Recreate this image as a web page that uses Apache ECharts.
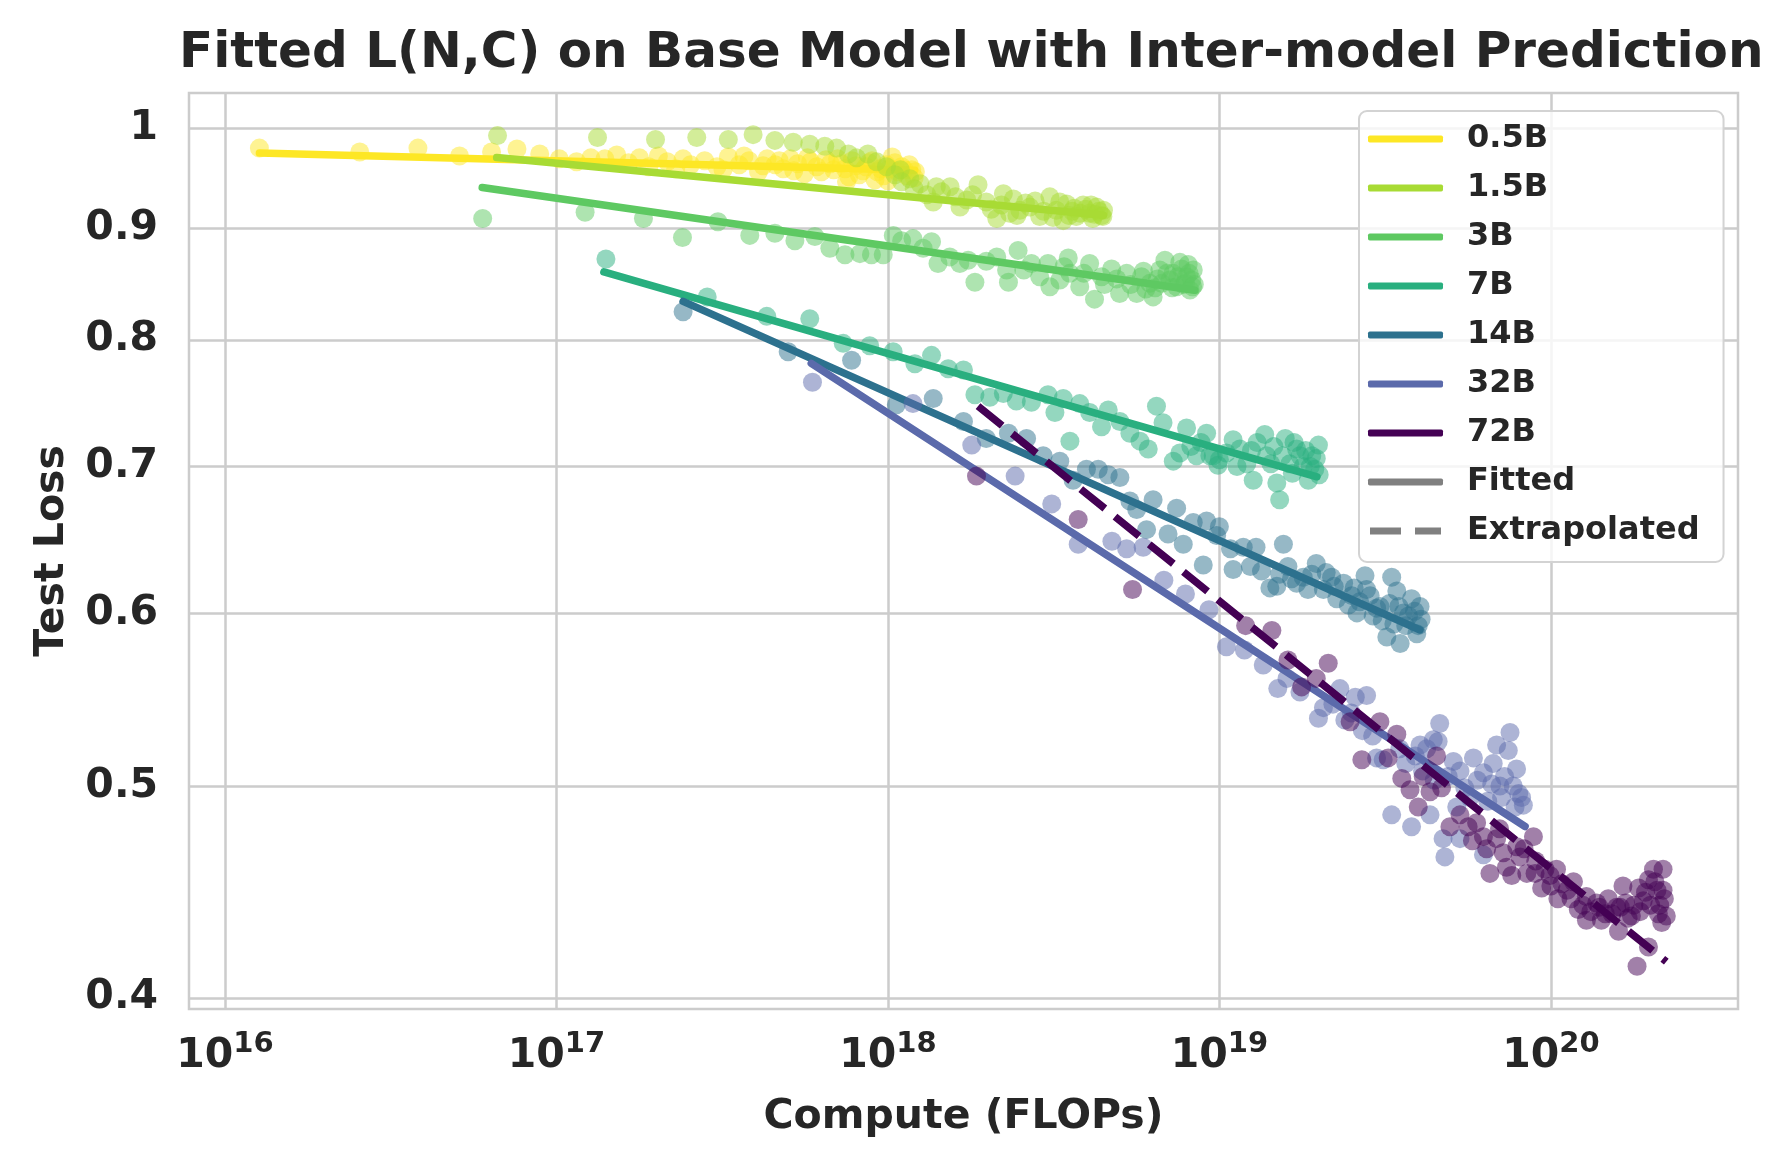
<!DOCTYPE html>
<html>
<head>
<meta charset="utf-8">
<title>Fitted L(N,C)</title>
<script src="https://cdn.jsdelivr.net/npm/echarts@6/dist/echarts.min.js"></script>
<style>
html, body { margin: 0; padding: 0; background: #fff; }
#chart { width: 1787px; height: 1172px; }
</style>
</head>
<body>
<div id="chart"></div>
<script>
var models = ['0.5B', '1.5B', '3B', '7B', '14B', '32B', '72B'];
var colors = ['#fde725', '#a8db34', '#5ec962', '#29af7f', '#2d718e', '#5b6aab', '#440154'];

// tick positions: x as powers of ten, y as loss values
var xTicks = [16, 17, 18, 19, 20];
var yTicks = [0.4, 0.5, 0.6, 0.7, 0.8, 0.9, 1];

// observed points [compute FLOPs, test loss]
var pts05 = [[1.27e16,0.979],[2.55e16,0.975],[3.82e16,0.979],[5.1e16,0.971],[6.37e16,0.975],[7.6e16,0.978],[8.9e16,0.973],[1.02e17,0.968],[1.15e17,0.965],[1.27e17,0.969],[1.4e17,0.968],[1.52e17,0.972],[1.65e17,0.964],[1.78e17,0.969],[1.9e17,0.960],[2.03e17,0.971],[2.16e17,0.965],[2.29e17,0.958],[2.41e17,0.968],[2.54e17,0.962],[2.8e17,0.966],[3.05e17,0.960],[3.3e17,0.970],[3.56e17,0.962],[3.81e17,0.966],[4.07e17,0.955],[4.32e17,0.968],[4.57e17,0.962],[4.83e17,0.958],[5.08e17,0.968],[5.34e17,0.963],[5.6e17,0.953],[5.85e17,0.965],[6.1e17,0.960],[6.5e17,0.967],[6.86e17,0.957],[7.24e17,0.963],[7.62e17,0.950],[8.0e17,0.961],[8.4e17,0.956],[8.76e17,0.964],[9.14e17,0.947],[9.5e17,0.958],[9.9e17,0.962],[1.03e18,0.970],[1.07e18,0.955],[1.1e18,0.960],[1.14e18,0.951],[1.18e18,0.957],[1.21e18,0.955],
    [3.18e17,0.957],[3.68e17,0.971],[4.2e17,0.961],[4.7e17,0.966],[5.2e17,0.956],[5.72e17,0.969],[6.3e17,0.955],[6.7e17,0.963],[7.05e17,0.968],[7.43e17,0.958],[7.5e17,0.945],[7.8e17,0.966],[8.2e17,0.952],[8.58e17,0.960],[8.95e17,0.966],[9.3e17,0.955],[9.7e17,0.951],[1.0e18,0.946],[1.01e18,0.958],[1.05e18,0.964],[1.12e18,0.957],[1.16e18,0.962],[1.2e18,0.949]];
var pts15 = [[6.64e16,0.992],[1.33e17,0.990],[1.99e17,0.988],[2.65e17,0.990],[3.3e17,0.988],[3.92e17,0.993],[4.56e17,0.987],[5.18e17,0.985],[5.81e17,0.983],[6.45e17,0.981],[7.0e17,0.979],[7.6e17,0.973],[8.04e17,0.969],[8.7e17,0.973],[9.24e17,0.965],[9.9e17,0.960],[1.05e18,0.952],[1.09e18,0.957],[1.165e18,0.948],[1.2e18,0.938],[1.25e18,0.943],[1.31e18,0.932],[1.37e18,0.925],[1.4e18,0.940],[1.54e18,0.940],[1.6e18,0.930],[1.65e18,0.920],[1.73e18,0.927],[1.87e18,0.942],[1.98e18,0.925],[2.05e18,0.918],[2.13e18,0.909],[2.23e18,0.933],[2.33e18,0.914],[2.39e18,0.928],[2.5e18,0.917],[2.68e18,0.920],[2.78e18,0.926],[2.87e18,0.911],[3.08e18,0.930],[3.22e18,0.917],[3.38e18,0.907],[3.46e18,0.923],[3.6e18,0.916],[3.7e18,0.911],[3.88e18,0.922],[4.06e18,0.914],[4.15e18,0.909],[4.26e18,0.920],[4.41e18,0.912],[4.47e18,0.917],
    [1.1e18,0.945],[1.45e18,0.935],[1.8e18,0.932],[2.2e18,0.922],[2.45e18,0.912],[2.6e18,0.924],[2.95e18,0.916],[3.15e18,0.910],[3.3e18,0.925],[3.52e18,0.912],[3.65e18,0.919],[3.8e18,0.914],[3.95e18,0.918],[4.1e18,0.922],[4.2e18,0.913],[4.33e18,0.916],[4.45e18,0.911]];
var pts3 = [[5.99e16,0.909],[1.22e17,0.915],[1.83e17,0.909],[2.4e17,0.891],[3.07e17,0.906],[3.83e17,0.893],[4.56e17,0.895],[5.24e17,0.888],[6.02e17,0.892],[6.68e17,0.881],[7.42e17,0.875],[8.23e17,0.876],[8.92e17,0.875],[9.68e17,0.875],[1.038e18,0.893],[1.1e18,0.888],[1.19e18,0.890],[1.277e18,0.881],[1.354e18,0.887],[1.416e18,0.867],[1.537e18,0.873],[1.648e18,0.867],[1.746e18,0.870],[1.83e18,0.850],[1.98e18,0.869],[2.13e18,0.873],[2.28e18,0.861],[2.31e18,0.850],[2.47e18,0.879],[2.57e18,0.861],[2.71e18,0.867],[2.87e18,0.855],[3.04e18,0.867],[3.08e18,0.846],[3.3e18,0.852],[3.5e18,0.872],[3.54e18,0.858],[3.79e18,0.846],[4.06e18,0.867],[4.2e18,0.835],[4.41e18,0.855],[4.73e18,0.862],[5.0e18,0.840],[5.25e18,0.858],[5.63e18,0.840],[5.82e18,0.855],[6.0e18,0.844],[6.17e18,0.849],[6.31e18,0.837],[6.5e18,0.853],[6.61e18,0.861],[6.85e18,0.870],[7.1e18,0.852],[7.25e18,0.858],[7.43e18,0.846],[7.69e18,0.862],[7.8e18,0.848],[7.96e18,0.855],[8.05e18,0.866],[8.15e18,0.843],[8.25e18,0.852],[8.34e18,0.861],[8.4e18,0.848],
    [3.4e18,0.864],[3.9e18,0.858],[4.5e18,0.848],[4.9e18,0.853],[5.4e18,0.848],[5.9e18,0.860],[6.4e18,0.845],[6.7e18,0.849],[6.95e18,0.858],[7.2e18,0.845],[7.5e18,0.855],[7.6e18,0.868],[7.9e18,0.849],[8.1e18,0.858],[8.3e18,0.846]];
var pts7 = [[1.41e17,0.871],[2.85e17,0.837],[4.31e17,0.820],[5.81e17,0.818],[7.33e17,0.797],[8.81e17,0.795],[1.037e18,0.790],[1.206e18,0.780],[1.354e18,0.787],[1.52e18,0.776],[1.69e18,0.775],[1.83e18,0.755],[2.03e18,0.753],[2.23e18,0.756],[2.44e18,0.750],[2.71e18,0.749],[3.04e18,0.755],[3.19e18,0.741],[3.38e18,0.752],[3.54e18,0.719],[3.79e18,0.748],[4.06e18,0.741],[4.41e18,0.730],[4.62e18,0.743],[5.01e18,0.734],[5.37e18,0.725],[5.76e18,0.719],[6.1e18,0.713],[6.46e18,0.746],[6.76e18,0.733],[7.26e18,0.704],[7.6e18,0.710],[7.96e18,0.729],[8.53e18,0.708],[9.15e18,0.725],[9.36e18,0.708],[9.58e18,0.708],[9.9e18,0.701],[1.0e19,0.705],[1.1e19,0.720],[1.153e19,0.713],[1.21e19,0.702],[1.265e19,0.690],[1.37e19,0.724],[1.388e19,0.708],[1.49e19,0.688],[1.52e19,0.676],[1.58e19,0.721],[1.63e19,0.702],[1.71e19,0.713],[1.79e19,0.700],[1.855e19,0.690],[1.9e19,0.708],[1.94e19,0.698],[1.99e19,0.716],
    [8.2e18,0.715],[8.8e18,0.718],[1.05e19,0.710],[1.13e19,0.700],[1.25e19,0.712],[1.3e19,0.718],[1.43e19,0.702],[1.46e19,0.715],[1.55e19,0.708],[1.66e19,0.695],[1.68e19,0.718],[1.75e19,0.708],[1.82e19,0.712],[1.88e19,0.700],[1.96e19,0.706],[2.0e19,0.694]];
var pts14 = [[2.41e17,0.824],[5.0e17,0.790],[7.77e17,0.783],[1.06e18,0.747],[1.37e18,0.752],[1.69e18,0.734],[1.98e18,0.721],[2.31e18,0.725],[2.62e18,0.721],[2.94e18,0.708],[3.3e18,0.704],[3.62e18,0.690],[3.97e18,0.698],[4.31e18,0.698],[4.62e18,0.694],[5.01e18,0.692],[5.37e18,0.675],[5.63e18,0.669],[6.03e18,0.655],[6.31e18,0.676],[7.0e18,0.652],[7.43e18,0.670],[7.78e18,0.645],[8.34e18,0.660],[8.94e18,0.631],[9.15e18,0.661],[9.81e18,0.651],[1.0e19,0.657],[1.08e19,0.642],[1.1e19,0.628],[1.18e19,0.643],[1.24e19,0.630],[1.29e19,0.643],[1.34e19,0.627],[1.42e19,0.616],[1.49e19,0.617],[1.56e19,0.645],[1.61e19,0.630],[1.71e19,0.619],[1.79e19,0.623],[1.9e19,0.625],[1.96e19,0.632],[2.06e19,0.615],[2.18e19,0.623],[2.26e19,0.609],[2.37e19,0.619],[2.51e19,0.611],[2.6e19,0.600],[2.75e19,0.624],[2.78e19,0.615],[2.91e19,0.598],[3.05e19,0.604],[3.2e19,0.585],[3.31e19,0.623],[3.43e19,0.614],[3.51e19,0.581],[3.59e19,0.600],[3.8e19,0.609],[3.94e19,0.587],[4.03e19,0.604],[4.06e19,0.596],
    [1.52e19,0.625],[1.65e19,0.622],[1.85e19,0.615],[2.1e19,0.626],[2.22e19,0.617],[2.45e19,0.605],[2.55e19,0.616],[2.65e19,0.607],[2.85e19,0.611],[2.98e19,0.603],[3.1e19,0.595],[3.26e19,0.606],[3.36e19,0.593],[3.48e19,0.604],[3.65e19,0.592],[3.72e19,0.598],[3.88e19,0.601],[3.98e19,0.592]];
var pts32 = [[5.92e17,0.765],[1.19e18,0.748],[1.79e18,0.716],[2.42e18,0.693],[3.12e18,0.673],[3.75e18,0.645],[4.74e18,0.647],[5.25e18,0.642],[5.89e18,0.643],[6.8e18,0.621],[7.9e18,0.612],[9.3e18,0.602],[1.05e19,0.579],[1.19e19,0.577],[1.356e19,0.568],[1.5e19,0.554],[1.6e19,0.560],[1.75e19,0.552],[1.99e19,0.537],[2.06e19,0.543],[2.31e19,0.554],[2.39e19,0.536],[2.57e19,0.549],[2.78e19,0.550],[2.98e19,0.515],[3.12e19,0.514],[3.31e19,0.485],[3.8e19,0.479],[4.03e19,0.522],[4.22e19,0.520],[4.32e19,0.485],[4.42e19,0.525],[4.57e19,0.524],[4.62e19,0.534],[4.73e19,0.473],[4.79e19,0.464],[5.08e19,0.513],[5.2e19,0.489],[5.32e19,0.508],[5.32e19,0.473],[5.84e19,0.515],[6.26e19,0.507],[6.26e19,0.465],[6.63e19,0.501],[6.86e19,0.522],[7.02e19,0.500],[7.1e19,0.494],[7.44e19,0.519],[7.53e19,0.529],[7.8e19,0.489],[7.88e19,0.509],[8.16e19,0.494],[8.26e19,0.490],
    [2.2e19,0.545],[2.5e19,0.540],[2.7e19,0.530],[2.9e19,0.527],[3.5e19,0.520],[3.65e19,0.512],[3.9e19,0.516],[4.1e19,0.508],[4.45e19,0.503],[4.9e19,0.505],[5.5e19,0.499],[5.7e19,0.494],[6.0e19,0.503],[6.45e19,0.492],[6.7e19,0.512],[7.25e19,0.505],[7.7e19,0.500],[8.0e19,0.496]];
var pts72 = [[1.85e18,0.693],[3.75e18,0.662],[5.47e18,0.615],[1.2e19,0.592],[1.44e19,0.589],[1.61e19,0.571],[1.77e19,0.555],[1.96e19,0.560],[2.13e19,0.569],[2.48e19,0.535],[2.69e19,0.514],[3.05e19,0.535],[3.23e19,0.515],[3.43e19,0.528],[3.55e19,0.504],[3.76e19,0.498],[3.98e19,0.489],[4.12e19,0.505],[4.32e19,0.497],[4.52e19,0.516],[4.68e19,0.499],[4.96e19,0.479],[5.32e19,0.485],[5.63e19,0.479],[5.97e19,0.481],[6.26e19,0.474],[6.55e19,0.456],[6.86e19,0.473],[7.18e19,0.466],[7.35e19,0.459],[7.62e19,0.455],[7.89e19,0.469],[8.07e19,0.464],[8.46e19,0.456],[8.86e19,0.474],[8.96e19,0.456],[9.38e19,0.449],[9.94e19,0.455],[1.04e20,0.458],[1.05e20,0.444],[1.12e20,0.448],[1.17e20,0.452],[1.21e20,0.439],[1.28e20,0.445],[1.28e20,0.434],[1.375e20,0.442],[1.42e20,0.434],[1.49e20,0.444],[1.58e20,0.440],[1.6e20,0.429],[1.65e20,0.450],[1.71e20,0.435],[1.78e20,0.441],[1.82e20,0.4135],[1.84e20,0.449],[1.9e20,0.443],[1.97e20,0.453],[1.97e20,0.422],[2.04e20,0.458],[2.09e20,0.448],[2.13e20,0.441],[2.16e20,0.433],[2.18e20,0.448],[2.18e20,0.458],[2.23e20,0.436],
    [5.8e19,0.472],[6.4e19,0.468],[7.0e19,0.478],[8.3e19,0.468],[9.0e19,0.462],[9.6e19,0.458],[1.0e20,0.450],[1.08e20,0.451],[1.15e20,0.444],[1.25e20,0.441],[1.32e20,0.438],[1.4e20,0.440],[1.46e20,0.437],[1.53e20,0.437],[1.62e20,0.440],[1.68e20,0.442],[1.75e20,0.436],[1.86e20,0.438],[1.93e20,0.447],[2.0e20,0.441],[2.06e20,0.452],[2.11e20,0.437],[2.2e20,0.444]];

// fitted / extrapolated power-law lines, end points
var fit05 = [[1.27e16,0.974],[1.205e18,0.9565]];
var fit15 = [[6.6e16,0.9693],[4.47e18,0.9122]];
var fit3  = [[5.97e16,0.9392],[8.43e18,0.8429]];
var fit7  = [[1.39e17,0.8593],[1.97e19,0.6925]];
var fit14 = [[2.41e17,0.833],[4.03e19,0.5893]];
var fit32 = [[5.87e17,0.7804],[8.36e19,0.4791]];
var fit72 = [[1.87e18,0.746],[2.23e20,0.4155]];

var points = [pts05, pts15, pts3, pts7, pts14, pts32, pts72];
var fits = [fit05, fit15, fit3, fit7, fit14, fit32, fit72];

var FONT = 'DejaVu Sans';
var TXT = '#262626';
var GRID = '#cccccc';

function lg(p) {
    return [Math.log10(p[0]), Math.log10(p[1])];
}

var series = [];
for (var i = 0; i < models.length; i++) {
    var dashed = (i === models.length - 1);
    series.push({
        name: models[i],
        type: 'line',
        data: fits[i].map(lg),
        symbol: 'none',
        silent: true,
        z: 3 + 2 * i,
        itemStyle: {color: colors[i]},
        lineStyle: {
            color: colors[i],
            width: 7.5,
            cap: dashed ? 'butt' : 'round',
            type: dashed ? [31, 13] : 'solid'
        }
    });
}
for (var j = 0; j < models.length; j++) {
    series.push({
        name: models[j],
        type: 'scatter',
        data: points[j].map(lg),
        symbolSize: 19,
        silent: true,
        z: 2 + 2 * j,
        itemStyle: {color: colors[j], opacity: 0.5}
    });
}
// legend-only entries
series.push({name: 'Fitted', type: 'line', data: [], itemStyle: {color: '#808080'}, lineStyle: {color: '#808080'}});
series.push({name: 'Extrapolated', type: 'line', data: [], itemStyle: {color: '#808080'}, lineStyle: {color: '#808080', type: 'dashed'}});

var legendData = models.map(function (m) { return {name: m, icon: 'roundRect'}; });
legendData.push({name: 'Fitted', icon: 'roundRect'});
legendData.push({name: 'Extrapolated', icon: 'path://M0,0h31v7h-31z M45,0h26v7h-26z'});

var chart = echarts.init(document.getElementById('chart'));
var option = {
    animation: false,
    backgroundColor: '#ffffff',
    title: {
        text: 'Fitted L(N,C) on Base Model with Inter-model Prediction',
        left: 174,
        top: 24,
        textStyle: {fontFamily: FONT, fontSize: 50, fontWeight: 'bold', color: TXT}
    },
    legend: {
        orient: 'vertical',
        left: 1359,
        top: 111,
        z: 50,
        selectedMode: false,
        padding: [10, 24, 13, 9],
        itemGap: 13,
        itemWidth: 75,
        itemHeight: 7,
        backgroundColor: 'rgba(255,255,255,0.8)',
        borderColor: '#d3d3d3',
        borderWidth: 2,
        borderRadius: 8,
        textStyle: {fontFamily: FONT, fontSize: 32, fontWeight: 'bold', color: TXT, lineHeight: 36, padding: [0, 0, 0, 19]},
        data: legendData
    },
    grid: {
        left: 189,
        top: 93,
        width: 1549,
        height: 916,
        show: true,
        borderColor: GRID,
        borderWidth: 2.5
    },
    xAxis: {
        type: 'value',
        min: 15.8914,
        max: 20.5646,
        axisLine: {show: false, onZero: false},
        splitLine: {show: false},
        axisTick: {show: true, inside: true, length: 916, customValues: xTicks, lineStyle: {color: GRID, width: 2.5}},
        axisLabel: {
            customValues: xTicks,
            margin: 21,
            formatter: function (v) { return '{b|10}{s|' + Math.round(v) + '}'; },
            rich: {
                b: {fontFamily: FONT, fontSize: 41, fontWeight: 'bold', color: TXT, lineHeight: 52},
                s: {fontFamily: FONT, fontSize: 29, fontWeight: 'bold', color: TXT, lineHeight: 29, verticalAlign: 'top'}
            }
        },
        name: 'Compute (FLOPs)',
        nameLocation: 'middle',
        nameGap: 88,
        nameTextStyle: {fontFamily: FONT, fontSize: 41, fontWeight: 'bold', color: TXT}
    },
    yAxis: {
        type: 'value',
        min: Math.log10(0.3953),
        max: 0.016,
        axisLine: {show: false, onZero: false},
        splitLine: {show: false},
        axisTick: {show: true, inside: true, length: 1549, customValues: yTicks.map(Math.log10), lineStyle: {color: GRID, width: 2.5}},
        axisLabel: {
            customValues: yTicks.map(Math.log10),
            margin: 31,
            fontFamily: FONT,
            fontSize: 41,
            fontWeight: 'bold',
            color: TXT,
            formatter: function (v) { return String(Math.round(Math.pow(10, v) * 10) / 10); }
        },
        name: 'Test Loss',
        nameLocation: 'middle',
        nameGap: 116,
        nameRotate: 90,
        nameTextStyle: {fontFamily: FONT, fontSize: 41, fontWeight: 'bold', color: TXT}
    },
    series: series
};
chart.setOption(option);
</script>
</body>
</html>
